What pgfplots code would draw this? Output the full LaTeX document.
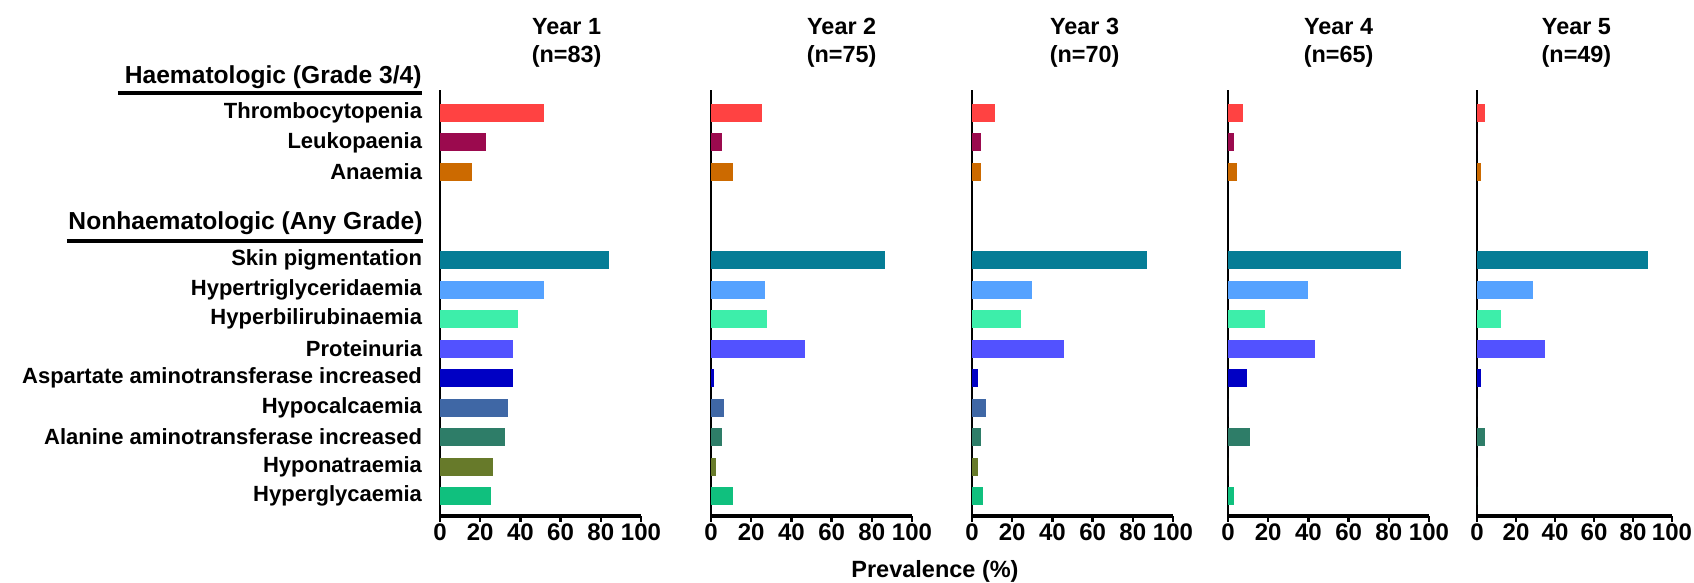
\documentclass[border=0pt]{standalone}
\usepackage{fontspec}
\setmainfont{Liberation Sans}
\usepackage{pgfplots}
\usepackage{pgfplotstable}
\pgfplotsset{compat=1.18}

\definecolor{c0}{HTML}{FF4242}
\definecolor{c1}{HTML}{9B0A4E}
\definecolor{c2}{HTML}{CC6A00}
\definecolor{c3}{HTML}{057D96}
\definecolor{c4}{HTML}{55A2FF}
\definecolor{c5}{HTML}{3DEEAA}
\definecolor{c6}{HTML}{5252FF}
\definecolor{c7}{HTML}{0000C4}
\definecolor{c8}{HTML}{3F67A5}
\definecolor{c9}{HTML}{2E7D68}
\definecolor{c10}{HTML}{677A2A}
\definecolor{c11}{HTML}{10C07E}

% rows: 0 Thrombocytopenia, 1 Leukopaenia, 2 Anaemia, 5 Skin pigmentation, 6 Hypertriglyceridaemia,
% 7 Hyperbilirubinaemia, 8 Proteinuria, 9 AST increased, 10 Hypocalcaemia, 11 ALT increased,
% 12 Hyponatraemia, 13 Hyperglycaemia
\pgfplotstableread{
row val
0 51.8
1 22.9
2 15.7
5 84.3
6 51.8
7 38.6
8 36.1
9 36.1
10 33.7
11 32.5
12 26.5
13 25.3
}\yearone
\pgfplotstableread{
row val
0 25.3
1 5.3
2 10.7
5 86.7
6 26.7
7 28.0
8 46.7
9 1.3
10 6.7
11 5.3
12 2.7
13 10.7
}\yeartwo
\pgfplotstableread{
row val
0 11.4
1 4.3
2 4.3
5 87.1
6 30.0
7 24.3
8 45.7
9 2.9
10 7.1
11 4.3
12 2.9
13 5.7
}\yearthree
\pgfplotstableread{
row val
0 7.7
1 3.1
2 4.6
5 86.2
6 40.0
7 18.5
8 43.1
9 9.2
10 0
11 10.8
12 0
13 3.1
}\yearfour
\pgfplotstableread{
row val
0 4.1
1 0
2 2.0
5 87.8
6 28.6
7 12.2
8 34.7
9 2.0
10 0
11 4.1
12 0
13 0
}\yearfive

\pgfplotsset{
  panel/.style={
    scale only axis, width=100.5pt, height=213pt, anchor=south west,
    xmin=0, xmax=100, ymin=-13.68, ymax=0.78,
    axis x line=bottom, axis y line=left,
    axis line style={-},
    x axis line style={line width=1.6pt},
    y axis line style={line width=1.2pt},
    xtick={0,20,40,60,80,100},
    tick align=outside,
    major tick length=2.8pt,
    xtick style={line width=1.2pt, black},
    ytick=\empty,
    /pgf/number format/assume math mode=true,
    xticklabel style={font=\fontsize{12}{14}\selectfont\bfseries, inner sep=1pt},
    title style={anchor=center, yshift=17.75pt, align=center,
      font=\fontsize{11.7}{14}\selectfont\bfseries, inner sep=0pt},
    clip=false,
  },
  pbar/.style={xbar, bar shift=0pt, bar width=9pt, draw=none, fill=#1},
}

\newcommand{\bars}[1]{%
  \pgfplotsinvokeforeach{0,...,11}{%
    \addplot[pbar=c##1, restrict expr to domain={\coordindex}{##1:##1}]
      table[x=val, y expr=-\thisrow{row}] {#1};
  }%
}

\begin{document}
\begin{tikzpicture}
\useasboundingbox (0,0) rectangle (847pt,291.5pt);

\begin{axis}[panel, at={(220pt,33.5pt)},
  title={Year 1\\(n=83)}, title style={at={(axis description cs:0.63,1)}},
  ytick={-13,-12,-11,-10,-9,-8,-7,-6,-5,-2,-1,0},
  yticklabels={Hyperglycaemia, Hyponatraemia, Alanine aminotransferase increased,
    Hypocalcaemia, Aspartate aminotransferase increased, Proteinuria,
    Hyperbilirubinaemia, Hypertriglyceridaemia, Skin pigmentation,
    Anaemia, Leukopaenia, Thrombocytopenia},
  ytick style={draw=none},
  yticklabel style={font=\fontsize{11}{13}\selectfont\bfseries, anchor=east, inner sep=0pt, xshift=-6pt},
]
\bars{\yearone}
\node[anchor=east, inner sep=0pt, font=\fontsize{12.3}{14}\selectfont\bfseries] at (axis cs:-9,1.22) {Haematologic (Grade 3/4)};
\draw[line width=2pt] (axis cs:-160.2,0.68) -- (axis cs:-9,0.68);
\node[anchor=east, inner sep=0pt, font=\fontsize{12.3}{14}\selectfont\bfseries] at (axis cs:-8.5,-3.73) {Nonhaematologic (Any Grade)};
\draw[line width=2pt] (axis cs:-185.6,-4.34) -- (axis cs:-8.5,-4.34);
\end{axis}

\begin{axis}[panel, at={(355.5pt,33.5pt)},
  title={Year 2\\(n=75)}, title style={at={(axis description cs:0.65,1)}}]
\bars{\yeartwo}
\end{axis}

\begin{axis}[panel, at={(486pt,33.5pt)},
  title={Year 3\\(n=70)}, title style={at={(axis description cs:0.56,1)}}]
\bars{\yearthree}
\end{axis}

\begin{axis}[panel, at={(614pt,33.5pt)},
  title={Year 4\\(n=65)}, title style={at={(axis description cs:0.55,1)}}]
\bars{\yearfour}
\end{axis}

\begin{axis}[panel, at={(738.5pt,33.5pt)}, width=97.5pt,
  title={Year 5\\(n=49)}, title style={at={(axis description cs:0.51,1)}}]
\bars{\yearfive}
\end{axis}

\node[font=\fontsize{11.75}{14}\selectfont\bfseries] at (467.5pt,6pt) {Prevalence (\%)};
\end{tikzpicture}
\end{document}
